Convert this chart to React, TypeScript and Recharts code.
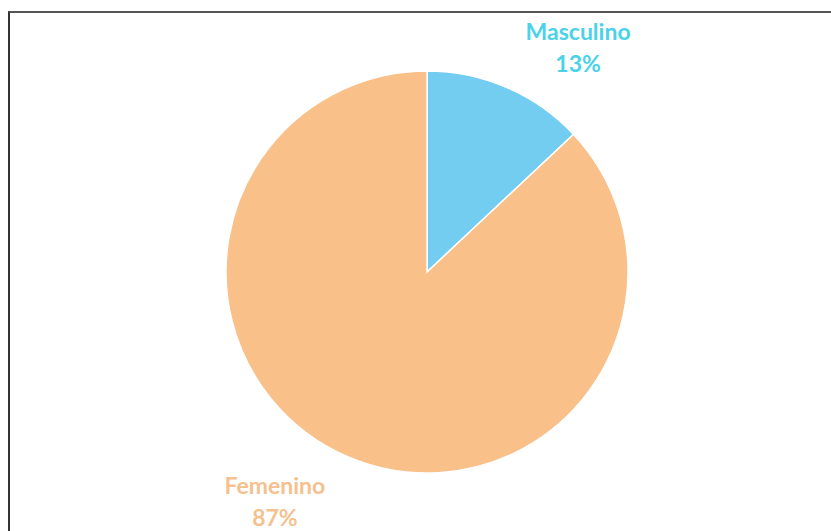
import React from "react";
import { PieChart, Pie, Cell } from "recharts";

const categories = ["Masculino", "Femenino"];
const percents = [13, 87];
const sliceColors = ["#72cdf0", "#f9c08a"];
const labelColors = ["#4ad2e8", "#f4c18f"];

const pieData = categories.map((name, i) => ({ name, value: percents[i] }));

const RADIAN = Math.PI / 180;

const renderLabel = (props: any) => {
  const { cx, cy, midAngle, outerRadius, index, name, value } = props;
  const r = outerRadius + 46;
  const x = cx + r * Math.cos(-midAngle * RADIAN);
  const y = cy + r * Math.sin(-midAngle * RADIAN) + 4;
  const center = x > cx ? x + 53 : x - 54;
  return (
    <text
      x={center}
      y={y}
      textAnchor="middle"
      fill={labelColors[index]}
      style={{ fontFamily: "Lato, sans-serif", fontSize: 23, fontWeight: 700 }}
    >
      <tspan x={center} dy={-9}>{name}</tspan>
      <tspan x={center} dy={32}>{value}%</tspan>
    </text>
  );
};

export default function App() {
  return (
    <div
      style={{
        position: "fixed",
        left: 0,
        top: 0,
        width: 831,
        height: 531,
        background: "#fff",
        overflow: "hidden",
      }}
    >
      <div
        style={{
          position: "absolute",
          left: 8,
          top: 11,
          width: 840,
          height: 560,
          borderLeft: "2px solid #333",
          borderTop: "2px solid #555",
        }}
      />
      <div style={{ position: "absolute", left: 0, top: 0 }}>
        <PieChart width={831} height={531}>
          <Pie
            data={pieData}
            dataKey="value"
            nameKey="name"
            cx={422}
            cy={267}
            outerRadius={201}
            startAngle={90}
            endAngle={-270}
            stroke="#ffffff"
            strokeWidth={1.5}
            label={renderLabel}
            labelLine={false}
            isAnimationActive={false}
          >
            {pieData.map((entry, i) => (
              <Cell key={entry.name} fill={sliceColors[i]} />
            ))}
          </Pie>
        </PieChart>
      </div>
    </div>
  );
}
